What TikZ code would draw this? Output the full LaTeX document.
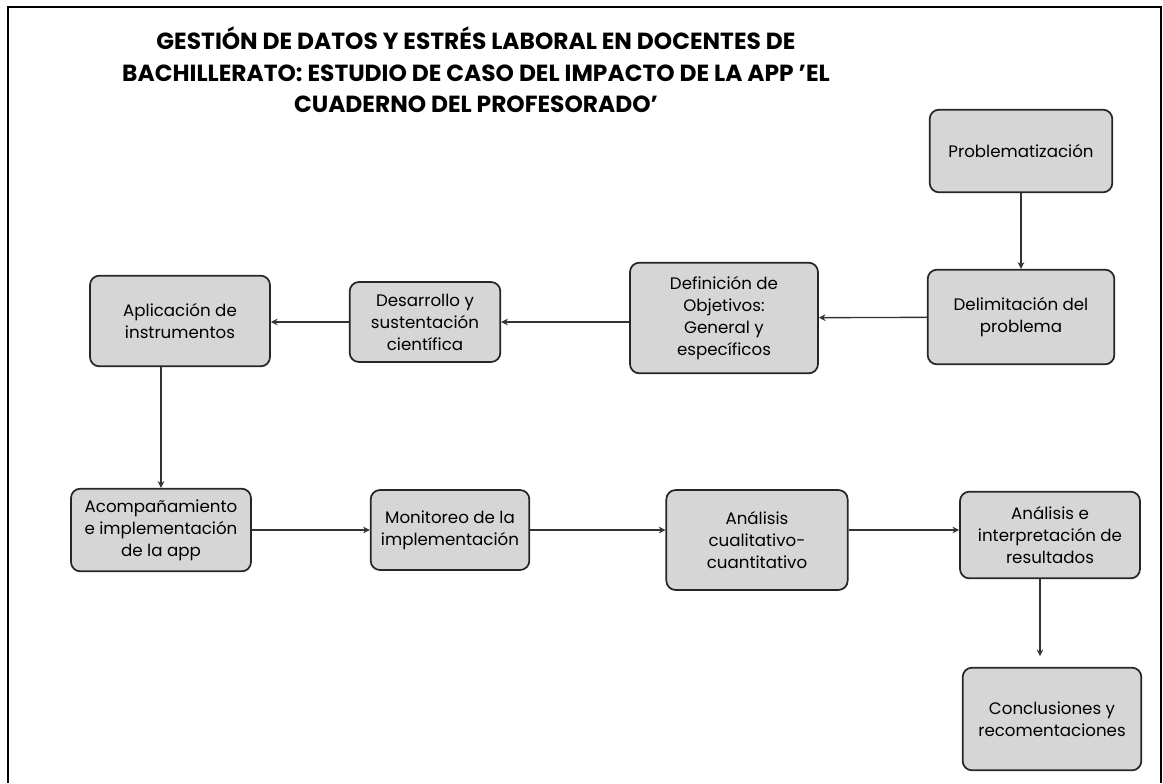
\documentclass[tikz,border=0pt]{standalone}
\usepackage{fontspec}
\setmainfont{Poppins}
\usetikzlibrary{arrows.meta,positioning}

\begin{document}
\begin{tikzpicture}[
    x=0.75pt, y=-0.75pt,
    stage/.style={rectangle, draw=black!85, line width=1.3pt, rounded corners=7pt,
        fill=gray!32, align=center, inner sep=1pt,
        font=\fontsize{12.5}{16.5}\selectfont},
    arrow/.style={-{Stealth[length=5pt,width=5pt]}, line width=1pt, draw=black!80}
]
\useasboundingbox (0,0) rectangle (1163,783);
\draw[line width=1.8pt] (8,783) -- (8,7) -- (1161,7) -- (1161,783);

% Title
\node[align=center, font=\fontsize{17.5}{23.5}\selectfont\bfseries] (title) at (476,70)
    {GESTIÓN DE DATOS Y ESTRÉS LABORAL EN DOCENTES DE\\
     BACHILLERATO: ESTUDIO DE CASO DEL IMPACTO DE LA APP 'EL\\
     CUADERNO DEL PROFESORADO'};

% First column and upper row (right to left)
\node[stage, minimum width=137pt, minimum height=62pt] (probl) at (1021,151) {Problematización};
\node[stage, minimum width=140pt, minimum height=71pt] (delim) at (1021,317) {Delimitación del\\ problema};
\node[stage, minimum width=141pt, minimum height=83pt] (objet) at (724,318) {Definición de\\ Objetivos:\\ General y\\ específicos};
\node[stage, minimum width=113pt, minimum height=60pt] (desar) at (425,322) {Desarrollo y\\ sustentación\\ científica};
\node[stage, minimum width=135pt, minimum height=68pt] (aplic) at (180,321) {Aplicación de\\ instrumentos};

% Lower row (left to right)
\node[stage, minimum width=135pt, minimum height=62pt] (acomp) at (161,530) {Acompañamiento\\ e implementación\\ de la app};
\node[stage, minimum width=119pt, minimum height=60pt] (monit) at (450,530) {Monitoreo de la\\ implementación};
\node[stage, minimum width=136pt, minimum height=75pt] (cualt) at (757,540) {Análisis\\ cualitativo-\\ cuantitativo};
\node[stage, minimum width=135pt, minimum height=65pt] (inter) at (1050,535) {Análisis e\\ interpretación de\\ resultados};
\node[stage, minimum width=134pt, minimum height=77pt] (concl) at (1052,719) {Conclusiones y\\ recomentaciones};

% Connectors
\draw[arrow] (probl) -- (delim);
\draw[arrow] (delim) -- (objet);
\draw[arrow] (objet.west |- desar) -- (desar);
\draw[arrow] (desar) -- (aplic.east |- desar);
\draw[arrow] (aplic.south -| acomp.north) -- (acomp.north);
\draw[arrow] (acomp) -- (monit);
\draw[arrow] (monit.east) -- (cualt.west |- monit.east);
\draw[arrow] (cualt.east |- monit.east) -- (inter.west |- monit.east);
\draw[arrow, shorten >=8pt] (inter.south -| 1040,0) -- (concl.north -| 1040,0);
\end{tikzpicture}
\end{document}
